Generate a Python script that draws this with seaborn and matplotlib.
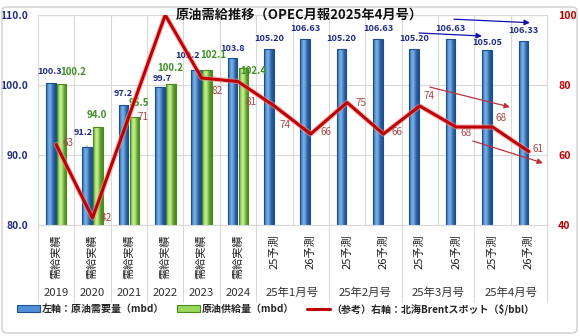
import numpy as np
import pandas as pd
import matplotlib
matplotlib.use("Agg")
import matplotlib.pyplot as plt
import matplotlib.transforms as mtransforms
import matplotlib.patheffects as pe
from matplotlib.patches import Patch, FancyBboxPatch
from matplotlib.lines import Line2D
from matplotlib.colors import to_rgb
import seaborn as sns

# ---- data -------------------------------------------------------------
tick_labels = ["需給実績"] * 6 + ["25予測", "26予測"] * 4
group_labels = ["2019", "2020", "2021", "2022", "2023", "2024",
                "25年1月号", "25年2月号", "25年3月号", "25年4月号"]
group_sizes = [1, 1, 1, 1, 1, 1, 2, 2, 2, 2]
demand = [100.3, 91.2, 97.2, 99.7, 102.2, 103.8,
          105.20, 106.63, 105.20, 106.63, 105.20, 106.63, 105.05, 106.33]
supply = [100.2, 94.0, 95.5, 100.2, 102.1, 102.4]
brent = [63, 42, 71, 100, 82, 81, 74, 66, 75, 66, 74, 68, 68, 61]
n_actual = len(supply)

title = "原油需給推移（OPEC月報2025年4月号）"
legend_labels = ["左軸：原油需要量（mbd）", "原油供給量（mbd）",
                 "（参考）右軸：北海Brentスポット（$/bbl）"]

# ---- styling ----------------------------------------------------------
sns.set_theme(style="white")
plt.rcParams["font.family"] = ["Noto Sans CJK JP", "DejaVu Sans"]

NAVY = "#1f2d86"
GREEN_TXT = "#3f8f25"
RED = "#c00000"
RED_TXT = "#a84848"
GRID = "#d9d9d9"
BLUE_BASE, GREEN_BASE = "#3f7fc6", "#8fd14f"
BLUE_DARK, BLUE_LIGHT = "#1d4f91", "#74aee6"
GREEN_DARK, GREEN_LIGHT = "#4a8c1c", "#c2f08c"
Y_LO, Y_HI = 80, 110

keys = [f"c{i}" for i in range(len(demand))]
df = pd.DataFrame(
    {"key": keys + keys[:n_actual],
     "series": ["demand"] * len(demand) + ["supply"] * n_actual,
     "value": demand + supply})

fig = plt.figure(figsize=(5.8, 3.36), dpi=100)
ax = fig.add_axes([38 / 580, 1 - 225 / 336, 509 / 580, 210 / 336])

sns.barplot(data=df, x="key", y="value", hue="series", order=keys,
            hue_order=["demand", "supply"],
            palette={"demand": BLUE_BASE, "supply": GREEN_BASE},
            width=0.6, gap=0.12, saturation=1, errorbar=None,
            legend=False, ax=ax, zorder=2)

# cylinder-like shading on each bar
def shade(rect, dark, light):
    x, y = rect.get_x(), rect.get_y()
    w, h = rect.get_width(), rect.get_height()
    t = np.linspace(0, 1, 64)
    f = np.exp(-((t - 0.38) / 0.3) ** 2)
    d, l = np.array(to_rgb(dark)), np.array(to_rgb(light))
    img = (d + (l - d) * f[:, None])[None, :, :]
    im = ax.imshow(img, extent=(x, x + w, max(y, Y_LO), y + h), aspect="auto",
                   interpolation="bilinear", zorder=2.1)
    im.set_clip_path(rect)
    rect.set_facecolor("none")
    rect.set_edgecolor(dark)
    rect.set_linewidth(0.8)
    rect.set_zorder(2.2)

bars = [p for p in ax.patches if p.get_height() > 0]
blue_bars = sorted([p for p in bars if np.allclose(p.get_facecolor()[:3], to_rgb(BLUE_BASE))],
                   key=lambda p: p.get_x())
green_bars = sorted([p for p in bars if np.allclose(p.get_facecolor()[:3], to_rgb(GREEN_BASE))],
                    key=lambda p: p.get_x())
for p in blue_bars:
    shade(p, BLUE_DARK, BLUE_LIGHT)
for p in green_bars:
    shade(p, GREEN_DARK, GREEN_LIGHT)
ax.set_ylim(Y_LO, Y_HI)
ax.set_xlim(-0.5, len(demand) - 0.5)

# bar value labels (offsets in points)
blue_off = [(-1, 8), (-3, 10), (0, 8), (2, 6.5), (-6.5, 10.5), (0, 7),
            (0, 7.5), (0, 7.5), (0, 7.5), (0, 7.5), (0, 7.5), (0, 7.5), (0, 5.5), (0, 7.5)]
green_off = [(8.5, 8), (-1, 8.5), (3.5, 9.5), (0, 11), (4.5, 11), (7, -2)]
for i, (p, v) in enumerate(zip(blue_bars, demand)):
    txt = f"{v:.1f}" if i < n_actual else f"{v:.2f}"
    cx = p.get_x() + p.get_width() / 2
    extra = {}
    if i == 1:
        extra["arrowprops"] = dict(arrowstyle="-", color="#5b8fd0", lw=0.7,
                                   shrinkA=4, shrinkB=0)
    ax.annotate(txt, xy=(cx, v), xytext=blue_off[i], textcoords="offset points",
                ha="center", va="center", color=NAVY, fontsize=6.6,
                fontweight="bold", zorder=5, **extra)
for i, (p, v) in enumerate(zip(green_bars, supply)):
    cx = p.get_x() + p.get_width() / 2
    ax.annotate(f"{v:.1f}", xy=(cx, v), xytext=green_off[i], textcoords="offset points",
                ha="center", va="center", color=GREEN_TXT, fontsize=7,
                fontweight="bold", zorder=5)

# axes cosmetics
ax.set_xlabel("")
ax.set_ylabel("")
ax.set_yticks([80, 90, 100, 110])
ax.set_yticklabels([f"{t:.1f}" for t in [80, 90, 100, 110]],
                   color=NAVY, fontsize=7.4, fontweight="bold")
ax.set_xticks(range(len(demand)))
ax.set_xticklabels(tick_labels, rotation=90, fontsize=8, color="#222222")
ax.set_xticks(np.arange(-0.5, len(demand), 1), minor=True)
ax.tick_params(axis="both", which="both", length=0)
ax.tick_params(axis="x", pad=7)
ax.tick_params(axis="y", pad=7)
ax.grid(False)
ax.grid(which="minor", axis="x", color=GRID, lw=0.8)
ax.grid(which="major", axis="y", color=GRID, lw=0.8)
ax.set_axisbelow(True)
for s in ax.spines.values():
    s.set_color(GRID)
    s.set_linewidth(0.8)

# Brent price on the secondary axis
ax2 = ax.twinx()
sns.lineplot(x=np.arange(len(brent)), y=brent, ax=ax2, color=RED, lw=2.2,
             path_effects=[pe.Stroke(linewidth=3.8, foreground="#e89090", alpha=0.6),
                           pe.Normal()], zorder=4)
ax2.set_ylim(40, 100)
ax2.set_xlim(-0.5, len(demand) - 0.5)
ax2.set_yticks([40, 60, 80, 100])
ax2.set_yticklabels(["40", "60", "80", "100"], color=RED, fontsize=7.6,
                    fontweight="bold")
ax2.tick_params(axis="y", length=0, pad=8)
ax2.set_ylabel("")
ax2.grid(False)
for s in ax2.spines.values():
    s.set_visible(False)

red_off = [(8.5, 1), (10, 0), (10, 0), None, (11.5, -9.5), (9.5, -15),
           (8, -13.5), (11, 1.5), (10, 0), (10, 1.5), (6.5, 7), (7, -4.5), (6.5, 6.5), (6.5, 2)]
for i, v in enumerate(brent):
    if red_off[i] is None:
        continue
    ax2.annotate(str(v), xy=(i, v), xytext=red_off[i], textcoords="offset points",
                 ha="center", va="center", color=RED_TXT, fontsize=7.2, zorder=5)

# trend arrows
arrow_blue = dict(arrowstyle="-|>", color="#1010b0", lw=0.9, mutation_scale=8,
                  shrinkA=0, shrinkB=0)
arrow_red = dict(arrowstyle="-|>", color="#c0303a", lw=0.9, mutation_scale=8,
                 shrinkA=0, shrinkB=0)
ax.annotate("", xy=(13.03, 108.9), xytext=(10.94, 109.4), arrowprops=arrow_blue,
            annotation_clip=False)
ax.annotate("", xy=(11.71, 107.0), xytext=(9.98, 107.43), arrowprops=arrow_blue,
            annotation_clip=False)
ax2.annotate("", xy=(12.48, 73.7), xytext=(10.28, 79.4), arrowprops=arrow_red,
             annotation_clip=False)
ax2.annotate("", xy=(13.39, 57.7), xytext=(11.46, 64.0), arrowprops=arrow_red,
             annotation_clip=False)

# second level of the category axis
trans = mtransforms.blended_transform_factory(ax.transData, ax.transAxes)
start = 0
bounds = [-0.5]
for lab, size in zip(group_labels, group_sizes):
    center = start + (size - 1) / 2
    ax.text(center, -0.324, lab, transform=trans, ha="center", va="center",
            fontsize=8.2, color="#333333")
    start += size
    bounds.append(start - 0.5)
for b in bounds:
    ax.add_line(Line2D([b, b], [0, -0.367], transform=trans, color=GRID, lw=0.8,
                       clip_on=False))

# title
fig.text(299 / 580, 1 - 15 / 336, title, ha="center", va="center",
         fontsize=9.5, fontweight="bold", color="#111111")

# legend
handles = [Patch(facecolor="#4f8fd6", edgecolor=BLUE_DARK, lw=0.8),
           Patch(facecolor="#9ad85c", edgecolor=GREEN_DARK, lw=0.8),
           Line2D([], [], color=RED, lw=2.2)]
fig.legend(handles, legend_labels, loc="center left",
           bbox_to_anchor=(17 / 580, 1 - 309 / 336), ncol=3, frameon=False,
           prop={"size": 7.2, "weight": "bold"}, handlelength=2.3,
           handleheight=0.65, handletextpad=0.15, columnspacing=1.3,
           borderpad=0, borderaxespad=0)

# outer frame
fig.patches.append(FancyBboxPatch((2 / 580, 3 / 336), 575 / 580, 326 / 336,
                                  boxstyle="round,pad=0,rounding_size=0.01",
                                  transform=fig.transFigure, fill=False,
                                  edgecolor="#cfcfcf", lw=1.0))

fig.savefig("out.png", dpi=100)
